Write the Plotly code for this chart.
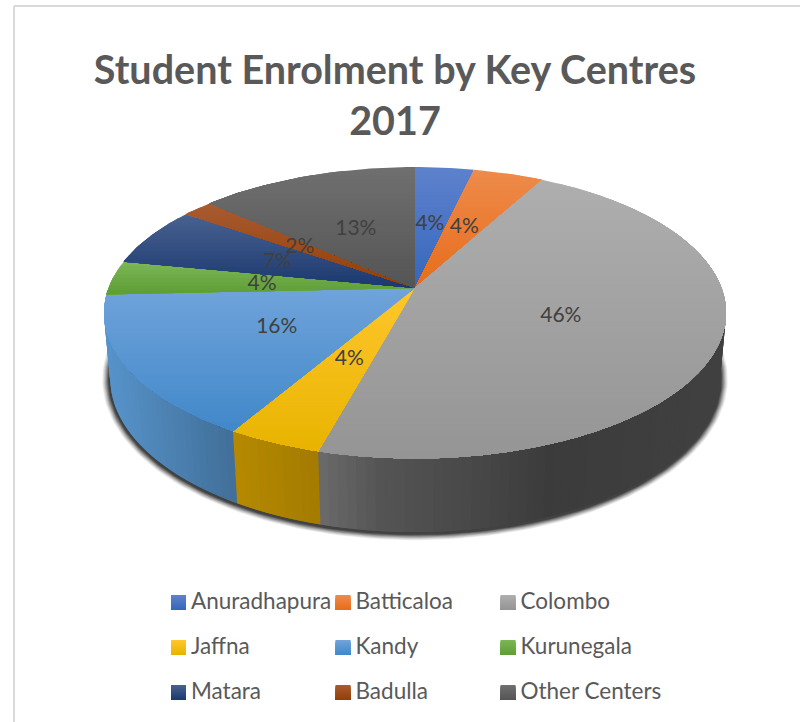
import math
import numpy as np
import plotly.graph_objects as go

# ---- data ----
categories = ["Anuradhapura", "Batticaloa", "Colombo", "Jaffna", "Kandy",
              "Kurunegala", "Matara", "Badulla", "Other Centers"]
shares = [3.6, 4.3, 46.3, 4.2, 15.8, 3.8, 6.6, 1.9, 13.4]
title_lines = ["Student Enrolment by Key Centres", "2017"]

# ---- style ----
base_colors = ["#4472C4", "#ED7D31", "#A5A5A5", "#FFC000", "#5B9BD5",
               "#70AD47", "#264478", "#9E480E", "#636363"]
top_colors = ["#5d82cd", "#ee8a4a", "#aeaeae", "#ffc62b", "#6fa3da",
              "#7bb555", "#47608f", "#a85a30", "#6f6f6f"]
bottom_colors = ["#3666bc", "#e86d1a", "#959595", "#e8b400", "#4288ca",
                 "#5f9f35", "#1c3a70", "#933f06", "#555555"]

W, H = 800, 722
CX, CY = 415.0, 288.0
A, B, K = 306.5, 141.5, 0.17
DEPTH, M = 66.0, 0.02
wall_x = [105, 235, 320, 380, 480, 550, 720]
wall_f = [0.95, 0.71, 0.64, 0.51, 0.43, 0.36, 0.39]


def project(theta, r=1.0, d=0.0):
    """Perspective view of a point on the disc; theta clockwise from 12 o'clock."""
    u = r * np.sin(theta)
    v = r * np.cos(theta)
    w = 1 + K * v + M * d
    return CX + A * u / w, CY + (-B * v + DEPTH * d) / w


def rgb(hexstr):
    return np.array([int(hexstr[i:i + 2], 16) for i in (1, 3, 5)], float)


def css(c):
    c = np.clip(np.round(c), 0, 255).astype(int)
    return f"rgb({c[0]},{c[1]},{c[2]})"


def clip_below(xs, ys, y0):
    """Keep the part of a polygon with y >= y0."""
    ox, oy = [], []
    n = len(xs)
    for i in range(n):
        x1, y1, x2, y2 = xs[i], ys[i], xs[(i + 1) % n], ys[(i + 1) % n]
        if y1 >= y0:
            ox.append(x1)
            oy.append(y1)
        if (y1 >= y0) != (y2 >= y0):
            t = (y0 - y1) / (y2 - y1)
            ox.append(x1 + t * (x2 - x1))
            oy.append(y0)
    return ox, oy


def poly(xs, ys, color, line=0.0):
    return go.Scatter(x=list(xs), y=list(ys), mode="lines", fill="toself",
                      fillcolor=color,
                      line=dict(color=color, width=line),
                      hoverinfo="skip", showlegend=False)


def add_gradient(fig, xs, ys, i, band):
    """Fill a polygon with the vertical gradient of category i."""
    ymin, ymax = min(ys), max(ys)
    c0, c1 = rgb(top_colors[i]), rgb(bottom_colors[i])
    steps = max(2, int((ymax - ymin) / band))
    for k in range(steps):
        y0 = ymin + (ymax - ymin) * k / steps
        qx, qy = clip_below(xs, ys, y0) if k else (xs, ys)
        if len(qx) > 2:
            fig.add_trace(poly(qx, qy, css(c0 + (c1 - c0) * k / (steps - 1))))


fig = go.Figure()
total = sum(shares)
edges = 2 * np.pi * np.cumsum([0] + shares) / total

# soft shadow under the bottom rim
tt = np.linspace(0, 2 * np.pi, 240)
bx, by = project(tt, 1.0, 1.0)
mx, my = bx.mean(), (by.max() + by.min()) / 2
for grow, alpha in [(8, .08), (7, .09), (6, .12), (5, .15), (4, .2), (3, .25), (2, .3)]:
    sx = (bx - mx) * (1 + grow / 305) + mx
    sy = (by - my) * (1 + grow / 175) + my + 1
    fig.add_trace(poly(sx, sy, f"rgba(0,0,0,{alpha})"))

# side wall, shaded across its width; each strip runs under the next one
WALL_FROM, WALL_TO = math.radians(80), math.radians(267)
for i in range(len(shares)):
    a0, a1 = edges[i], edges[i + 1]
    lo, hi = max(a0, WALL_FROM), min(a1, WALL_TO)
    if hi <= lo:
        continue
    n = max(2, int((hi - lo) / math.radians(1.5)))
    ts = np.linspace(lo, hi, n + 1)
    step = ts[1] - ts[0]
    base = rgb(base_colors[i])
    for t0, t1 in zip(ts[:-1], ts[1:]):
        t_end = min(t1 + step, WALL_TO)
        x0, y0 = project(t0)
        x1, y1 = project(t_end)
        x2, y2 = project(t_end, 1, 1)
        x3, y3 = project(t0, 1, 1)
        xm, _ = project((t0 + t1) / 2)
        f = np.interp(xm, wall_x, wall_f)
        fig.add_trace(poly([x0, x1, x2, x3], [y0, y1, y2, y3], css(base * f)))

# top face, each slice with its own vertical gradient
for i in range(len(shares)):
    ts = np.linspace(edges[i], edges[i + 1], max(3, int((edges[i + 1] - edges[i]) * 60)))
    px, py = project(ts)
    add_gradient(fig, [CX] + list(px), [CY] + list(py), i, 4)

# percentage labels
mid = (edges[:-1] + edges[1:]) / 2
lx, ly = project(mid, 0.5)
fig.add_trace(go.Scatter(x=lx - 1, y=ly + 1.5, mode="text",
                         text=[f"{round(s / total * 100)}%" for s in shares],
                         textposition="middle center",
                         textfont=dict(family="Lato", size=21, color="#404040"),
                         hoverinfo="skip", showlegend=False))

# legend, three rows of three
col_x = [178.5, 343, 508]
row_y = [602.5, 647.5, 692.5]
SWATCH = 7.5
for i, name in enumerate(categories):
    x, y = col_x[i % 3], row_y[i // 3]
    add_gradient(fig, [x - SWATCH, x + SWATCH, x + SWATCH, x - SWATCH],
                 [y - SWATCH, y - SWATCH, y + SWATCH, y + SWATCH], i, 1)
    fig.add_trace(go.Scatter(
        x=[x + 12.5], y=[y + 1], mode="text", text=[name],
        textposition="middle right",
        textfont=dict(family="Lato", size=22.5, color="#595959"),
        hoverinfo="skip", showlegend=False))

# chart frame
frame = dict(type="line", line=dict(color="#d9d9d9", width=2), layer="below")
fig.update_layout(
    width=W, height=H, margin=dict(l=0, r=0, t=0, b=0),
    paper_bgcolor="white", plot_bgcolor="white", showlegend=False,
    xaxis=dict(range=[0, W], visible=False, fixedrange=True),
    yaxis=dict(range=[H, 0], visible=False, fixedrange=True),
    title=dict(text="<br>".join(title_lines), x=395 / W, xanchor="center",
               y=1 - 83.5 / H, yanchor="top",
               font=dict(family="Lato", size=39.5, color="#595959", weight="bold")),
    shapes=[dict(frame, x0=14, x1=W, y0=6, y1=6), dict(frame, x0=14, x1=14, y0=6, y1=H)],
)
fig.write_html("out.html", config=dict(displayModeBar=False),
               post_script="document.body.style.margin='0';document.documentElement.style.overflow='hidden';")
